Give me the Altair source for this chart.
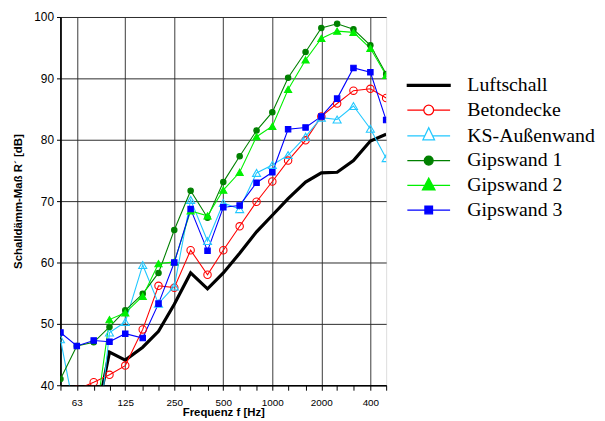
import altair as alt
import pandas as pd

freqs = [50, 63, 80, 100, 125, 160, 200, 250, 315, 400, 500, 630, 800, 1000,
         1250, 1600, 2000, 2500, 3150, 4000, 5000]
series_names = ["Luftschall", "Betondecke", "KS-Außenwand",
                "Gipswand 1", "Gipswand 2", "Gipswand 3"]

luftschall = [None, None, 32.6, 45.4, 44.1, 46.2, 48.8, 53.2, 58.3, 55.7, 58.3,
              61.5, 65.0, 67.7, 70.4, 73.1, 74.6, 74.7, 76.6, 79.8, 80.9]
betondecke = [None, 39.3, 40.5, 41.7, 43.2, 49.1, 56.2, 55.9, 62.0, 58.0, 62.0,
              65.9, 69.9, 73.2, 76.6, 79.9, 83.8, 85.9, 88.0, 88.3, 86.8]
ks_aussenwand = [47.5, 33.8, 25.0, 48.6, 50.3, 59.6, 53.3, 56.1, 70.2, 63.5, 69.7,
                 68.7, 74.6, 75.9, 77.5, 80.5, 83.6, 83.3, 85.5, 81.8, 77.0]
gipswand1 = [41.0, 46.4, 47.0, 49.5, 52.2, 54.9, 58.3, 65.3, 71.7, 67.3, 73.1,
             77.3, 81.5, 84.5, 90.1, 94.3, 98.2, 98.9, 98.0, 95.4, 90.7]
gipswand2 = [None, 37.0, 32.3, 50.7, 51.8, 54.5, 59.8, 60.1, 68.4, 67.6, 71.8,
             74.7, 80.5, 82.2, 88.2, 93.0, 96.5, 97.7, 97.5, 94.9, 90.5]
gipswand3 = [48.6, 46.4, 47.3, 47.1, 48.4, 47.7, 53.3, 60.0, 68.7, 61.9, 69.0,
             69.3, 73.0, 74.7, 81.7, 82.0, 83.8, 86.7, 91.7, 91.0, 83.2]

octave_ticks = [63, 125, 250, 500, 1000, 2000, 4000]
octave_labels = ["63", "125", "250", "500", "1000", "2000", "400"]

colors = ["#000000", "#ff0000", "#22c8ff", "#008000", "#00f000", "#0000ff"]
fills = ["#000000", "transparent", "transparent", "#008000", "#00f000", "#0000ff"]
line_widths = [3.2, 1.1, 1.1, 1.1, 1.1, 1.1]
point_shapes = [None, "circle", "triangle-up", "circle", "triangle-up", "square"]
point_sizes = [0, 56, 66, 30, 52, 30]
legend_shapes = [
    "M-4.8,-0.22H4.8V0.22H-4.8Z",
    "M-4.8,0H-1.1M1.1,0H4.8M1.1,0A1.1,1.1,0,1,1,-1.1,0A1.1,1.1,0,1,1,1.1,0Z",
    "M-4.8,0H-0.87M0.87,0H4.8M0,-1.8L1.3,0.9L-1.3,0.9Z",
    "M-4.8,0H4.8M1,0A1,1,0,1,1,-1,0A1,1,0,1,1,1,0Z",
    "M-4.8,0H4.8M0,-1.6L1.4,1.0L-1.4,1.0Z",
    "M-4.8,0H4.8M-0.85,-0.85H0.85V0.85H-0.85Z",
]

all_series = [luftschall, betondecke, ks_aussenwand, gipswand1, gipswand2, gipswand3]
rows = []
for name, vals in zip(series_names, all_series):
    for f, v in zip(freqs, vals):
        if v is not None:
            rows.append({"series": name, "freq": f, "value": v})
df = pd.DataFrame(rows)

label_expr = "".join(
    f"datum.value == {t} ? '{l}' : " for t, l in zip(octave_ticks, octave_labels)
) + "''"
grid_test = "indexof([" + ",".join(str(t) for t in octave_ticks) + "], datum.value) >= 0"

x_enc = alt.X(
    "freq:Q",
    scale=alt.Scale(type="log", domain=[50, 5000], nice=False),
    axis=alt.Axis(
        values=freqs,
        labelExpr=label_expr,
        title="Frequenz f [Hz]",
        grid=True,
        gridColor="#3a3a3a",
        gridWidth=1,
        gridOpacity={"condition": {"test": grid_test, "value": 1}, "value": 0},
        tickSize=5,
        tickColor="black",
        domainColor="black",
        domainWidth=1.5,
        labelFont="Liberation Sans",
        labelFontSize=10,
        labelColor="black",
        labelPadding=7,
        labelFlush=False,
        labelOverlap=False,
        titleFont="Liberation Sans",
        titleFontSize=11.5,
        titleFontWeight="bold",
        titleColor="black",
        titleBaseline="middle",
        titleX=164.5,
        titleY=28,
    ),
)
y_enc = alt.Y(
    "value:Q",
    scale=alt.Scale(domain=[40, 100], nice=False, zero=False),
    axis=alt.Axis(
        values=[40, 50, 60, 70, 80, 90, 100],
        title="Schalldämm-Maß R´ [dB]",
        grid=True,
        gridColor="#2a2a2a",
        gridWidth=1,
        tickSize=4,
        tickColor="black",
        domainColor="black",
        domainWidth=1.8,
        labelFont="Liberation Sans",
        labelFontSize=12,
        labelColor="black",
        labelPadding=3,
        labelFlush=False,
        titleFont="Liberation Sans",
        titleFontSize=11.5,
        titleFontWeight="bold",
        titleColor="black",
        titleAngle=270,
        titleAlign="center",
        titleBaseline="middle",
        titleX=-42,
        titleY=186,
    ),
)

base = alt.Chart(df)

layers = []
# lines first
for name, c, w in zip(series_names, colors, line_widths):
    layers.append(
        base.transform_filter(alt.datum.series == name)
        .mark_line(clip=True, color=c, strokeWidth=w)
        .encode(x=x_enc, y=y_enc, order="freq:Q")
    )
# markers
for name, c, fl, shp, sz in zip(series_names, colors, fills, point_shapes, point_sizes):
    if shp is None:
        continue
    layers.append(
        base.transform_filter(alt.datum.series == name)
        .mark_point(clip=True, shape=shp, size=sz, stroke=c, fill=fl,
                    strokeWidth=1.1, opacity=1, filled=False)
        .encode(x=x_enc, y=y_enc)
    )

leg = alt.Legend(
    title=None,
    orient="none",
    legendX=362,
    legendY=59,
    padding=0,
    symbolSize=81,
    symbolStrokeWidth=1.3,
    labelFont="Liberation Serif",
    labelFontSize=20,
    labelColor="black",
    labelOffset=29,
    labelLimit=300,
    rowPadding=5,
    symbolOpacity=1,
)

legend_layer = base.transform_filter("datum.value < 0").mark_point(opacity=1).encode(
    x=x_enc,
    y=y_enc,
    color=alt.Color("series:N", scale=alt.Scale(domain=series_names, range=colors), legend=leg),
    fill=alt.Fill("series:N", scale=alt.Scale(domain=series_names, range=fills), legend=leg),
    shape=alt.Shape("series:N", scale=alt.Scale(domain=series_names, range=legend_shapes), legend=leg),
)
layers.append(legend_layer)

chart = alt.layer(*layers).properties(
    width=329,
    height=372,
    autosize=alt.AutoSizeParams(type="none"),
    padding={"left": 53, "top": 7, "right": 213, "bottom": 32},
).configure_view(
    stroke="black",
    strokeWidth=1,
).configure(background="white")

chart.save("out.html", embed_options={"renderer": "svg", "actions": False})
